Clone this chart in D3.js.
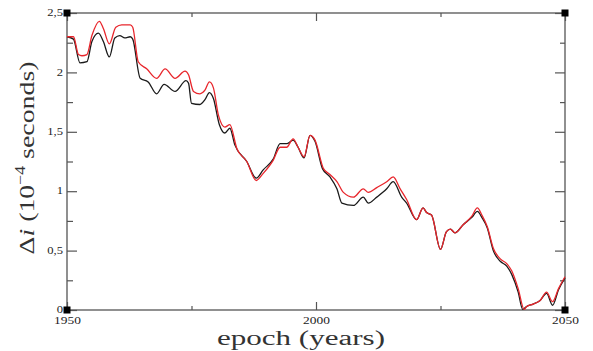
<!DOCTYPE html>
<html>
<head>
<meta charset="utf-8">
<script src="https://cdn.jsdelivr.net/npm/d3@7"></script>
<style>
  html, body { margin: 0; padding: 0; background: #fff; }
  svg { display: block; }
</style>
</head>
<body>
<svg id="chart" width="593" height="351"></svg>
<script>
// ---- data ----
const redYears = [1950, 1951.3, 1952.3, 1953, 1954, 1955, 1956.5, 1957.3, 1958.5, 1959.8, 1961, 1962.7, 1963.2, 1964.3, 1966, 1968, 1969.7, 1971.7, 1973.7, 1974.4, 1975.4, 1976.7, 1977.7, 1978.6, 1979.4, 1980.4, 1981.7, 1982.7, 1984.1, 1986.1, 1988, 1989.4, 1991.4, 1992.8, 1994.1, 1995.4, 1996.4, 1997.6, 1998.8, 1999.8, 2001.5, 2002.8, 2004.2, 2005.5, 2007.5, 2009.5, 2010.5, 2012.2, 2014.2, 2015.5, 2016.9, 2018.2, 2020.2, 2021.5, 2022.2, 2023.2, 2025, 2026.2, 2027, 2027.9, 2029.6, 2031.3, 2032.4, 2033.3, 2034.4, 2035.6, 2037, 2038.3, 2039.3, 2040.6, 2041.8, 2042.3, 2043.6, 2045, 2046.3, 2047.5, 2048.7, 2050];
const redValues = [2.30, 2.30, 2.15, 2.14, 2.15, 2.31, 2.43, 2.37, 2.24, 2.38, 2.40, 2.40, 2.38, 2.09, 2.03, 1.95, 2.03, 1.95, 2.01, 1.98, 1.84, 1.82, 1.85, 1.92, 1.87, 1.64, 1.54, 1.56, 1.36, 1.25, 1.09, 1.15, 1.26, 1.37, 1.37, 1.44, 1.37, 1.29, 1.47, 1.43, 1.19, 1.14, 1.08, 0.99, 0.95, 1.02, 0.99, 1.03, 1.08, 1.12, 1.02, 0.93, 0.76, 0.86, 0.82, 0.80, 0.51, 0.66, 0.68, 0.65, 0.72, 0.79, 0.86, 0.80, 0.70, 0.52, 0.43, 0.39, 0.33, 0.18, 0.005, 0.03, 0.05, 0.08, 0.15, 0.07, 0.18, 0.28];

const blackYears = [1950, 1951.3, 1952.6, 1954, 1955, 1956.3, 1957.3, 1958.5, 1959.6, 1960.6, 1961.6, 1962.7, 1963.2, 1964.7, 1966.3, 1968, 1969.5, 1971.7, 1973.9, 1974.4, 1975, 1976.7, 1977.7, 1978.6, 1979.4, 1980.6, 1981.7, 1982.7, 1983.7, 1986.1, 1988, 1989.4, 1991.4, 1992.8, 1994.1, 1995.4, 1996.4, 1997.6, 1998.8, 1999.8, 2001.3, 2002.8, 2004.2, 2005.2, 2007.5, 2009.5, 2010.5, 2012.2, 2014.2, 2015.5, 2017.2, 2018.2, 2020.2, 2021.5, 2022.2, 2023.2, 2025, 2026.2, 2027, 2027.9, 2029.6, 2031.3, 2032.4, 2033.3, 2034.4, 2035.6, 2037, 2038.3, 2039.3, 2040.6, 2041.5, 2042.3, 2043.6, 2045, 2046.3, 2047.5, 2048.7, 2050];
const blackValues = [2.30, 2.28, 2.08, 2.09, 2.26, 2.33, 2.26, 2.13, 2.29, 2.31, 2.29, 2.30, 2.28, 1.95, 1.92, 1.82, 1.90, 1.84, 1.93, 1.91, 1.74, 1.73, 1.77, 1.83, 1.78, 1.56, 1.49, 1.53, 1.39, 1.25, 1.11, 1.18, 1.27, 1.40, 1.40, 1.43, 1.37, 1.28, 1.47, 1.42, 1.19, 1.12, 1.02, 0.90, 0.88, 0.95, 0.90, 0.95, 1.02, 1.08, 0.95, 0.90, 0.76, 0.86, 0.82, 0.80, 0.51, 0.66, 0.68, 0.65, 0.72, 0.78, 0.83, 0.78, 0.69, 0.50, 0.41, 0.37, 0.30, 0.15, 0.005, 0.03, 0.05, 0.08, 0.14, 0.04, 0.17, 0.27];

const xMajorTicks = [1950, 2000, 2050];
const xMinorTicks = [1975, 2025];
const yMajorTicks = [0, 0.5, 1, 1.5, 2, 2.5];
const yMinorTicks = [0.25, 0.75, 1.25, 1.75, 2.25];
const xTitle = "epoch (years)";

// ---- layout ----
const svg = d3.select("#chart");
const L = 67, R = 565, T = 13, B = 310;
const x = d3.scaleLinear().domain([1950, 2050]).range([L, R]);
const y = d3.scaleLinear().domain([0, 2.5]).range([B, T]);
const FONT = "'Liberation Serif', 'DejaVu Serif', serif";
const frameColor = "#555";

function styleAxis(g) {
  g.select(".domain").remove();
  g.selectAll(".tick line").attr("stroke", frameColor).attr("stroke-width", 1.2);
  g.selectAll("text").attr("font-family", FONT).attr("font-size", 10.5).attr("fill", "#222");
}

// bottom axis
svg.append("g").attr("transform", `translate(0,${B})`)
  .call(d3.axisBottom(x).tickValues(xMajorTicks).tickSize(-8).tickPadding(7).tickFormat(d3.format("d")))
  .call(styleAxis)
  .call(g => g.selectAll("text").attr("transform", "scale(1.28,1)"));
svg.append("g").attr("transform", `translate(0,${B})`)
  .call(d3.axisBottom(x).tickValues(xMinorTicks).tickSize(-4).tickFormat(""))
  .call(styleAxis);
// top axis
svg.append("g").attr("transform", `translate(0,${T})`)
  .call(d3.axisTop(x).tickValues(xMajorTicks).tickSize(-8).tickFormat(""))
  .call(styleAxis);
svg.append("g").attr("transform", `translate(0,${T})`)
  .call(d3.axisTop(x).tickValues(xMinorTicks).tickSize(-4).tickFormat(""))
  .call(styleAxis);
// left axis
svg.append("g").attr("transform", `translate(${L},0)`)
  .call(d3.axisLeft(y).tickValues(yMajorTicks).tickSize(-10).tickPadding(4)
    .tickFormat(d => String(d).replace(".", ",")))
  .call(styleAxis)
  .call(g => g.selectAll("text").attr("transform", "scale(1.2,1)").attr("x", -4 / 1.2).attr("dy", "0.26em"));
svg.append("g").attr("transform", `translate(${L},0)`)
  .call(d3.axisLeft(y).tickValues(yMinorTicks).tickSize(-6).tickFormat(""))
  .call(styleAxis);
// right axis
svg.append("g").attr("transform", `translate(${R},0)`)
  .call(d3.axisRight(y).tickValues(yMajorTicks).tickSize(-10).tickFormat(""))
  .call(styleAxis);
svg.append("g").attr("transform", `translate(${R},0)`)
  .call(d3.axisRight(y).tickValues(yMinorTicks).tickSize(-5).tickFormat(""))
  .call(styleAxis);

// frame
svg.append("rect").attr("x", L).attr("y", T).attr("width", R - L).attr("height", B - T)
  .attr("fill", "none").attr("stroke", frameColor).attr("stroke-width", 1.3);

// curves
const line = d3.line().x(d => x(d[0])).y(d => y(d[1])).curve(d3.curveMonotoneX);
svg.append("path").datum(d3.zip(blackYears, blackValues))
  .attr("d", line).attr("fill", "none").attr("stroke", "#1a1a1a").attr("stroke-width", 1.3);
svg.append("path").datum(d3.zip(redYears, redValues))
  .attr("d", line).attr("fill", "none").attr("stroke", "#e8262c").attr("stroke-width", 1.3);

// corner markers
const corners = [[1950, 2.5], [2050, 2.5], [1950, 0], [2050, 0]];
svg.selectAll("rect.corner").data(corners).join("rect").attr("class", "corner")
  .attr("x", d => x(d[0]) - 3.5).attr("y", d => y(d[1]) - 3.5)
  .attr("width", 7).attr("height", 7).attr("fill", "#000");

// axis titles
svg.append("text").attr("x", 301).attr("y", 345)
  .attr("text-anchor", "middle").attr("font-family", FONT).attr("font-size", 20)
  .attr("fill", "#333").attr("textLength", 168).attr("lengthAdjust", "spacingAndGlyphs")
  .text(xTitle);

const yt = svg.append("text").attr("transform", "translate(34,158) rotate(-90)")
  .attr("text-anchor", "middle").attr("font-family", FONT).attr("font-size", 22)
  .attr("fill", "#333").attr("textLength", 193).attr("lengthAdjust", "spacingAndGlyphs");
yt.append("tspan").text("Δ");
yt.append("tspan").attr("font-style", "italic").text("i");
yt.append("tspan").text(" (10");
yt.append("tspan").attr("font-size", 14).attr("dy", -9).text("−4");
yt.append("tspan").attr("dy", 9).text(" seconds)");
</script>
</body>
</html>
